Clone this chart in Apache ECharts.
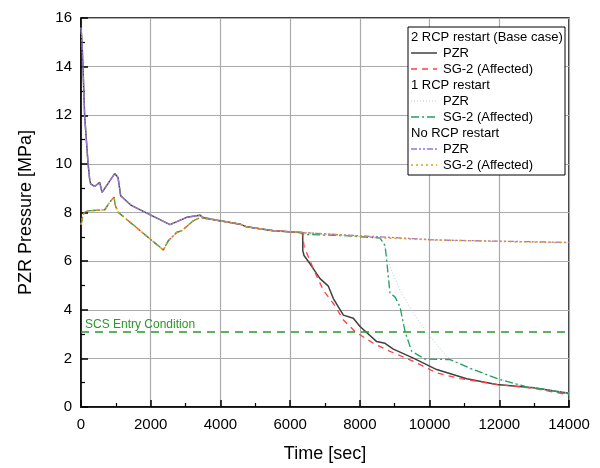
<!DOCTYPE html>
<html>
<head>
<meta charset="utf-8">
<script src="https://cdn.jsdelivr.net/npm/echarts@6/dist/echarts.min.js"></script>
<style>
  html, body { margin: 0; padding: 0; background: #fff; }
  #main { width: 600px; height: 468px; }
</style>
</head>
<body>
<div id="main"></div>
<script>
// 公共的前段 (0 ~ 6300 s)，三种工况重合
var prePzr = [[0,15.6],[29,15.0],[57,14.0],[105,11.96],[153,11.0],[200,10.05],[248,9.37],[277,9.18],[392,9.07],[536,9.24],[603,8.83],[966,9.6],[1062,9.44],[1138,8.69],[1444,8.29],[2018,7.88],[2553,7.5],[3032,7.8],[3414,7.89],[3510,7.77],[3988,7.66],[4562,7.52],[4754,7.41],[5518,7.25],[6283,7.18]];
var preSg = [[0,7.5],[60,7.9],[105,8.01],[200,8.07],[679,8.11],[822,8.42],[947,8.63],[985,8.29],[1071,8.0],[2362,6.46],[2505,6.84],[2745,7.18],[2888,7.25],[3223,7.66],[3366,7.76],[3510,7.8],[3988,7.66],[4562,7.52],[4754,7.41],[5518,7.25],[6283,7.18]];

// 2 RCP restart (Base case)
var baseTailPzr = [[6360,7.18],[6362,6.43],[6398,6.23],[6570,5.89],[6857,5.28],[7096,4.97],[7240,4.46],[7527,3.78],[7813,3.65],[8005,3.31],[8483,2.69],[8722,2.62],[8961,2.38],[9535,2.01],[10205,1.54],[11066,1.16],[11926,0.93],[12977,0.79],[14000,0.57]];
var baseTailSg = [[6360,7.1],[6400,6.6],[6665,5.69],[6952,4.8],[7240,4.26],[7527,3.58],[7862,3.1],[8387,2.62],[8865,2.29],[9535,1.88],[10205,1.4],[10874,1.17],[11926,0.93],[12977,0.77],[14000,0.5]];

// 1 RCP restart
var oneTailPzr = [[6400,7.12],[7500,7.05],[8579,6.98],[8700,6.7],[8865,5.76],[9152,4.8],[9535,3.85],[10014,2.9],[10492,2.08],[11066,1.6],[12021,1.13],[12786,0.85],[14000,0.58]];
var oneTailSg = [[6400,7.1],[7500,7.05],[8579,6.95],[8722,6.64],[8770,6.03],[8865,4.67],[9008,4.53],[9152,4.12],[9296,3.1],[9487,2.29],[9870,1.97],[10588,1.95],[11256,1.54],[12021,1.13],[12786,0.83],[13360,0.72],[14000,0.52]];

// No RCP restart
var noTailPzr = [[7000,7.12],[8579,7.0],[10205,6.87],[12000,6.82],[14000,6.77]];
var noTailSg = [[7000,7.12],[8579,6.96],[10205,6.87],[12000,6.81],[14000,6.76]];

var scsLevel = 3.1;
var xTicks = [0, 2000, 4000, 6000, 8000, 10000, 12000, 14000];
var yTicks = [0, 2, 4, 6, 8, 10, 12, 14, 16];

var font = 'Arial, "Liberation Sans", sans-serif';

function line(name, data, color, type, width) {
  return {
    name: name,
    type: 'line',
    data: data,
    showSymbol: false,
    symbol: 'none',
    lineStyle: { color: color, type: type, width: width },
    z: 3
  };
}

// 图例（用 graphic 画，表头为纯文字）
var legendRows = [
  { text: '2 RCP restart (Base case)' },
  { text: 'PZR', color: '#404040', dash: null, w: 1.5 },
  { text: 'SG-2 (Affected)', color: '#ff4040', dash: [6, 5], w: 1.3 },
  { text: '1 RCP restart' },
  { text: 'PZR', color: '#b4ccf0', dash: [1, 2], w: 1 },
  { text: 'SG-2 (Affected)', color: '#20a060', dash: [8, 3, 2, 3], w: 1.3 },
  { text: 'No RCP restart' },
  { text: 'PZR', color: '#a070e0', dash: [6, 2, 2, 2, 2, 2], w: 1.3 },
  { text: 'SG-2 (Affected)', color: '#e0a010', dash: [2, 3], w: 1.5 }
];
var legendGraphic = [{
  type: 'rect',
  shape: { x: 408, y: 27, width: 157, height: 148 },
  style: { fill: '#fff', stroke: '#000', lineWidth: 1 },
  z: 10
}];
legendRows.forEach(function (r, i) {
  var cy = 37 + i * 16;
  if (r.color) {
    legendGraphic.push({
      type: 'line',
      shape: { x1: 411, y1: cy, x2: 437, y2: cy },
      style: { stroke: r.color, lineWidth: r.w, lineDash: r.dash },
      z: 11
    });
  }
  legendGraphic.push({
    type: 'text',
    x: r.color ? 443 : 411,
    y: cy,
    style: { text: r.text, font: '13px ' + font, fill: '#000', textVerticalAlign: 'middle' },
    z: 11
  });
});

var series = [
  line('2 RCP PZR', prePzr.concat(baseTailPzr), '#404040', 'solid', 1.5),
  line('2 RCP SG-2', preSg.concat(baseTailSg), '#ff4040', [6, 5], 1.3),
  line('1 RCP PZR', prePzr.concat(oneTailPzr), '#b4ccf0', [1, 2], 1),
  line('1 RCP SG-2', preSg.concat(oneTailSg), '#20a060', [8, 3, 2, 3], 1.3),
  line('No RCP PZR', prePzr.concat(noTailPzr), '#a070e0', [6, 2, 2, 2, 2, 2], 1.3),
  line('No RCP SG-2', preSg.concat(noTailSg), '#e0a010', [2, 3], 1.5),
  {
    name: 'SCS',
    type: 'line',
    data: [],
    markLine: {
      silent: true,
      symbol: 'none',
      lineStyle: { color: '#2a982a', type: [8, 6], width: 1.5 },
      label: {
        show: true,
        position: 'insideStartTop',
        formatter: 'SCS Entry Condition',
        color: '#2a982a',
        fontFamily: font,
        fontSize: 12,
        distance: [4, 1]
      },
      data: [{ yAxis: scsLevel }]
    }
  }
];

var option = {
  animation: false,
  backgroundColor: '#fff',
  grid: { left: 81, right: 31, top: 18, bottom: 57, show: true, borderColor: '#000', borderWidth: 1.5 },
  xAxis: {
    type: 'value',
    min: xTicks[0],
    max: xTicks[xTicks.length - 1],
    interval: 2000,
    name: 'Time [sec]',
    nameLocation: 'middle',
    nameGap: 38,
    nameTextStyle: { fontFamily: font, fontSize: 18, color: '#000' },
    axisLine: { show: true, lineStyle: { color: '#000', width: 1.5 } },
    axisTick: { show: true, inside: true, length: 7, lineStyle: { color: '#000', width: 1.5 } },
    minorTick: { show: true, splitNumber: 2, length: 4, lineStyle: { color: '#000', width: 1.2 } },
    axisLabel: { fontFamily: font, fontSize: 15, color: '#000', margin: 10, formatter: function (v) { return String(v); } },
    splitLine: { show: true, lineStyle: { color: '#aaaaaa', width: 1.2 } }
  },
  yAxis: {
    type: 'value',
    min: yTicks[0],
    max: yTicks[yTicks.length - 1],
    interval: 2,
    name: 'PZR Pressure [MPa]',
    nameLocation: 'middle',
    nameGap: 46,
    nameTextStyle: { fontFamily: font, fontSize: 18, color: '#000' },
    axisLine: { show: true, lineStyle: { color: '#000', width: 1.5 } },
    axisTick: { show: true, inside: true, length: 7, lineStyle: { color: '#000', width: 1.5 } },
    minorTick: { show: true, splitNumber: 2, length: 4, lineStyle: { color: '#000', width: 1.2 } },
    axisLabel: { fontFamily: font, fontSize: 15, color: '#000', margin: 9 },
    splitLine: { show: true, lineStyle: { color: '#aaaaaa', width: 1.2 } }
  },
  graphic: legendGraphic,
  series: series
};

var chart = echarts.init(document.getElementById('main'), null, { renderer: 'canvas' });
chart.setOption(option);
</script>
</body>
</html>
